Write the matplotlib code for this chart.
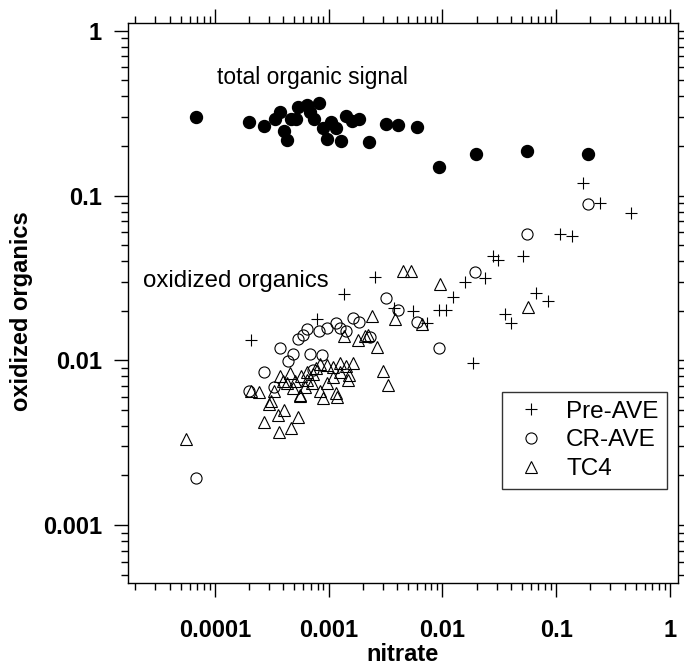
import matplotlib
matplotlib.use("Agg")
import matplotlib.pyplot as plt
from matplotlib.ticker import LogLocator, NullFormatter, FixedLocator, FixedFormatter

plt.rcParams['font.family'] = ['Liberation Sans', 'DejaVu Sans']

# total organic signal (filled dots)
tot_x = [6.76e-5, 1.99e-4, 2.68e-4, 3.37e-4, 3.72e-4, 4.04e-4, 4.32e-4, 4.66e-4,
         5.12e-4, 5.40e-4, 6.40e-4, 6.84e-4, 7.38e-4, 8.20e-4, 8.85e-4, 9.66e-4,
         1.05e-3, 1.16e-3, 1.28e-3, 1.42e-3, 1.62e-3, 1.86e-3, 2.27e-3, 3.17e-3,
         4.04e-3, 6.00e-3, 9.4e-3, 0.0196, 0.0550, 0.189]
tot_y = [0.301, 0.280, 0.265, 0.291, 0.320, 0.247, 0.217, 0.291,
         0.291, 0.343, 0.354, 0.320, 0.291, 0.363, 0.258, 0.222,
         0.280, 0.258, 0.214, 0.304, 0.284, 0.291, 0.210, 0.272,
         0.269, 0.262, 0.150, 0.179, 0.186, 0.180]

# Pre-AVE
pre_x = [2.07e-4, 7.83e-4, 1.36e-3, 2.55e-3, 3.75e-3, 5.47e-3, 7.26e-3, 9.38e-3,
         0.0107, 0.01245, 0.0158, 0.0236, 0.0276, 0.0310, 0.0507, 0.108,
         0.137, 0.173, 0.243, 0.460, 0.0663, 0.0841, 0.0357, 0.0398, 0.0187]
pre_y = [0.0133, 0.0179, 0.0253, 0.0322, 0.0207, 0.0200, 0.0168, 0.0202,
         0.0202, 0.0241, 0.0300, 0.0315, 0.0430, 0.0406, 0.0431, 0.0584,
         0.0568, 0.1186, 0.0897, 0.0780, 0.0257, 0.0230, 0.0191, 0.0168, 0.0096]

# CR-AVE
cr_x = [6.76e-5, 2.0e-4, 2.70e-4, 3.32e-4, 3.75e-4, 4.41e-4, 4.88e-4, 5.40e-4,
        5.90e-4, 6.40e-4, 6.84e-4, 7.23e-4, 8.26e-4, 8.78e-4, 9.60e-4, 1.15e-3,
        1.27e-3, 1.42e-3, 1.64e-3, 1.85e-3, 2.30e-3, 3.17e-3, 4.04e-3, 5.93e-3,
        9.38e-3, 0.0194, 0.0550, 0.189]
cr_y = [0.00194, 0.00654, 0.00849, 0.00692, 0.0118, 0.00995, 0.0109, 0.0134,
        0.0143, 0.0154, 0.0109, 0.00873, 0.0151, 0.0108, 0.0158, 0.0168,
        0.0158, 0.0151, 0.0181, 0.0171, 0.0139, 0.0238, 0.0202, 0.0172,
        0.0118, 0.0342, 0.0582, 0.0885]

# TC4
tc_x = [5.56e-5, 2.06e-4, 2.45e-4, 2.71e-4, 3.0e-4, 3.09e-4, 3.32e-4, 3.58e-4,
        3.67e-4, 4.06e-4, 4.63e-4, 5.37e-4, 5.59e-4, 8.96e-4, 1.17e-3, 1.18e-3,
        1.10e-3, 1.26e-3, 1.10e-3, 1.64e-3, 1.52e-3, 1.49e-3, 1.36e-3, 1.82e-3,
        2.08e-3, 2.23e-3, 2.39e-3, 2.64e-3, 2.98e-3, 3.34e-3, 3.82e-3, 4.47e-3,
        5.25e-3, 6.56e-3, 9.51e-3, 0.0568,
        9.6e-4, 8.4e-4, 7.7e-4, 4.56e-4, 3.72e-4, 3.99e-4, 5.77e-4, 6.4e-4,
        4.88e-4, 5.59e-4, 8.4e-4, 7.1e-4, 1.26e-3, 9.6e-4, 6.2e-4, 4.26e-4,
        1.43e-3, 6.4e-4, 7.3e-4, 5.05e-4]
tc_y = [0.00334, 0.00654, 0.00645, 0.00424, 0.00543, 0.00569, 0.00654, 0.00466,
        0.00366, 0.00499, 0.00386, 0.00455, 0.00610, 0.00588, 0.00631, 0.00596,
        0.00789, 0.00959, 0.00915, 0.00959, 0.00814, 0.00759, 0.0141, 0.0133,
        0.0141, 0.0143, 0.0186, 0.0121, 0.00865, 0.00708, 0.0177, 0.0350,
        0.0350, 0.0166, 0.0290, 0.0212,
        0.00937, 0.0095, 0.0090, 0.0084, 0.0080, 0.0075, 0.0080, 0.0076,
        0.0068, 0.0062, 0.0065, 0.0073, 0.0085, 0.0073, 0.0069, 0.0073,
        0.0092, 0.0085, 0.0083, 0.0075]

fig = plt.figure(figsize=(6.84, 6.68), dpi=100)
ax = fig.add_axes([128 / 684, 1 - 582.7 / 668, 550 / 684, 560 / 668])

ax.plot(tot_x, tot_y, 'o', color='black', markersize=8.6, linestyle='none')
ax.plot(pre_x, pre_y, '+', color='black', markersize=8, markeredgewidth=0.8,
        linestyle='none', label='Pre-AVE')
ax.plot(cr_x, cr_y, 'o', markerfacecolor='none', markeredgecolor='black',
        markersize=8, markeredgewidth=0.8, linestyle='none', label='CR-AVE')
ax.plot(tc_x, tc_y, '^', markerfacecolor='none', markeredgecolor='black',
        markersize=8.6, markeredgewidth=0.8, linestyle='none', label='TC4')

ax.set_xscale('log')
ax.set_yscale('log')
ax.set_xlim(1.72e-5, 1.18)
ax.set_ylim(4.47e-4, 1.12)

ax.xaxis.set_major_locator(FixedLocator([1e-4, 1e-3, 1e-2, 1e-1, 1]))
ax.xaxis.set_major_formatter(FixedFormatter(['0.0001', '0.001', '0.01', '0.1', '1']))
ax.yaxis.set_major_locator(FixedLocator([1e-3, 1e-2, 1e-1, 1]))
ax.yaxis.set_major_formatter(FixedFormatter(['0.001', '0.01', '0.1', '1']))
ax.xaxis.set_minor_locator(LogLocator(base=10, subs=range(2, 10), numticks=20))
ax.yaxis.set_minor_locator(LogLocator(base=10, subs=range(2, 10), numticks=20))
ax.xaxis.set_minor_formatter(NullFormatter())
ax.yaxis.set_minor_formatter(NullFormatter())

ax.tick_params(which='both', direction='out', top=True, right=True,
               labeltop=False, labelright=False, width=1)
ax.tick_params(which='major', length=9.8, labelsize=17)
ax.tick_params(axis='x', which='major', pad=16)
ax.tick_params(axis='y', which='major', pad=9)
ax.tick_params(which='minor', length=5)
for lab in ax.get_xticklabels() + ax.get_yticklabels():
    lab.set_fontweight('bold')
for sp in ax.spines.values():
    sp.set_linewidth(1)

ax.set_xlabel('nitrate', fontsize=17, fontweight='bold', labelpad=1)
ax.set_ylabel('oxidized organics', fontsize=17, fontweight='bold')
ax.yaxis.set_label_coords(-0.1727, 0.485)

ax.text(0.336, 0.903, 'total organic signal', transform=ax.transAxes,
        ha='center', va='center', fontsize=16.5)
ax.text(0.027, 0.539, 'oxidized organics', transform=ax.transAxes,
        ha='left', va='center', fontsize=17.3)

leg = ax.legend(loc='upper right', bbox_to_anchor=(0.98, 0.3405), fontsize=17.5,
                frameon=True, fancybox=False, borderpad=0.35, labelspacing=0.28,
                handletextpad=0.6, handlelength=1.7, borderaxespad=0)
leg.get_frame().set_edgecolor('black')
leg.get_frame().set_linewidth(1)

fig.savefig('out.png', dpi=100)
